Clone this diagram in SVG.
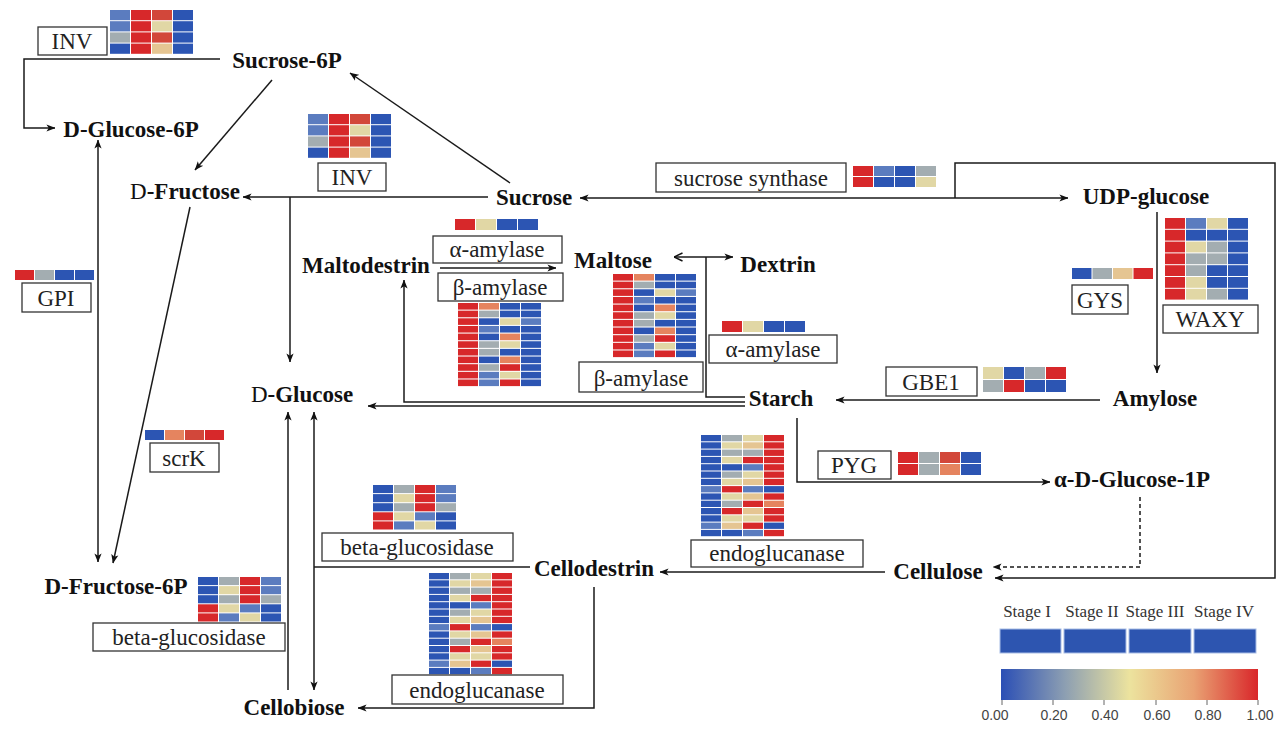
<svg xmlns="http://www.w3.org/2000/svg" xmlns:xlink="http://www.w3.org/1999/xlink" width="1283" height="729" viewBox="0 0 1283 729">
<style>
.n{font-family:"Liberation Serif","Times New Roman",serif;font-weight:bold;font-size:23px;fill:#111;text-anchor:middle}
.l{font-family:"Liberation Serif","Times New Roman",serif;font-size:23px;fill:#222;text-anchor:middle}
.bx{fill:#fff;stroke:#333;stroke-width:1.3}
.c{fill:none;stroke:#1a1a1a;stroke-width:1.5}
.ar{marker-end:url(#ah)}
.dash{stroke-dasharray:4 3}
.r{fill:#d7282a}.r2{fill:#d2473a}.o{fill:#e5845f}.y{fill:#e1d7a5}.t{fill:#e5c592}.g{fill:#a3adb1}.s{fill:#5b7cbf}.b{fill:#2c55b3}
.lg{font-family:"Liberation Serif","Times New Roman",serif;font-size:17px;fill:#333;text-anchor:middle}
.tk{font-family:"Liberation Sans Narrow","Liberation Sans",sans-serif;font-size:14px;fill:#444;text-anchor:middle}
</style>
<defs>
<marker id="ah" viewBox="0 0 10 10" refX="9.5" refY="5" markerWidth="9" markerHeight="9" markerUnits="userSpaceOnUse" orient="auto-start-reverse"><path d="M0,1 L10,5 L0,9 L2.5,5 z" fill="#111"/></marker>
<marker id="ao" viewBox="0 0 10 10" refX="9.5" refY="5" markerWidth="10" markerHeight="10" markerUnits="userSpaceOnUse" orient="auto"><path d="M1,1 L9.5,5 L1,9" fill="none" stroke="#111" stroke-width="1.4"/></marker>
<linearGradient id="grad" x1="0" y1="0" x2="1" y2="0">
<stop offset="0" stop-color="#2b4fb5"/><stop offset="0.25" stop-color="#8d9fb2"/><stop offset="0.5" stop-color="#ece39e"/><stop offset="0.75" stop-color="#e9a273"/><stop offset="1" stop-color="#d9262a"/>
</linearGradient>
<g id="hmINV">
<rect x="0" y="0" width="20" height="10.2" class="s"/><rect x="21" y="0" width="20" height="10.2" class="r"/><rect x="42" y="0" width="20" height="10.2" class="r2"/><rect x="63" y="0" width="20" height="10.2" class="b"/>
<rect x="0" y="11.2" width="20" height="10.2" class="s"/><rect x="21" y="11.2" width="20" height="10.2" class="r"/><rect x="42" y="11.2" width="20" height="10.2" class="y"/><rect x="63" y="11.2" width="20" height="10.2" class="b"/>
<rect x="0" y="22.4" width="20" height="10.2" class="g"/><rect x="21" y="22.4" width="20" height="10.2" class="r"/><rect x="42" y="22.4" width="20" height="10.2" class="r2"/><rect x="63" y="22.4" width="20" height="10.2" class="b"/>
<rect x="0" y="33.6" width="20" height="10.2" class="b"/><rect x="21" y="33.6" width="20" height="10.2" class="r"/><rect x="42" y="33.6" width="20" height="10.2" class="t"/><rect x="63" y="33.6" width="20" height="10.2" class="b"/>
</g>
<g id="hmA">
<rect x="0" y="0" width="20" height="11" class="r"/><rect x="21" y="0" width="20" height="11" class="y"/><rect x="42" y="0" width="20" height="11" class="b"/><rect x="63" y="0" width="20" height="11" class="b"/>
</g>
<g id="hmB">
<rect x="0" y="0" width="20" height="6.6" class="r"/><rect x="21" y="0" width="20" height="6.6" class="o"/><rect x="42" y="0" width="20" height="6.6" class="b"/><rect x="63" y="0" width="20" height="6.6" class="b"/>
<rect x="0" y="7.65" width="20" height="6.6" class="r"/><rect x="21" y="7.65" width="20" height="6.6" class="g"/><rect x="42" y="7.65" width="20" height="6.6" class="b"/><rect x="63" y="7.65" width="20" height="6.6" class="b"/>
<rect x="0" y="15.3" width="20" height="6.6" class="r"/><rect x="21" y="15.3" width="20" height="6.6" class="b"/><rect x="42" y="15.3" width="20" height="6.6" class="y"/><rect x="63" y="15.3" width="20" height="6.6" class="s"/>
<rect x="0" y="22.95" width="20" height="6.6" class="r"/><rect x="21" y="22.95" width="20" height="6.6" class="s"/><rect x="42" y="22.95" width="20" height="6.6" class="b"/><rect x="63" y="22.95" width="20" height="6.6" class="b"/>
<rect x="0" y="30.6" width="20" height="6.6" class="r"/><rect x="21" y="30.6" width="20" height="6.6" class="b"/><rect x="42" y="30.6" width="20" height="6.6" class="o"/><rect x="63" y="30.6" width="20" height="6.6" class="b"/>
<rect x="0" y="38.25" width="20" height="6.6" class="r"/><rect x="21" y="38.25" width="20" height="6.6" class="g"/><rect x="42" y="38.25" width="20" height="6.6" class="y"/><rect x="63" y="38.25" width="20" height="6.6" class="b"/>
<rect x="0" y="45.9" width="20" height="6.6" class="r"/><rect x="21" y="45.9" width="20" height="6.6" class="g"/><rect x="42" y="45.9" width="20" height="6.6" class="b"/><rect x="63" y="45.9" width="20" height="6.6" class="b"/>
<rect x="0" y="53.55" width="20" height="6.6" class="r"/><rect x="21" y="53.55" width="20" height="6.6" class="b"/><rect x="42" y="53.55" width="20" height="6.6" class="o"/><rect x="63" y="53.55" width="20" height="6.6" class="b"/>
<rect x="0" y="61.2" width="20" height="6.6" class="r"/><rect x="21" y="61.2" width="20" height="6.6" class="g"/><rect x="42" y="61.2" width="20" height="6.6" class="r"/><rect x="63" y="61.2" width="20" height="6.6" class="b"/>
<rect x="0" y="68.85" width="20" height="6.6" class="r"/><rect x="21" y="68.85" width="20" height="6.6" class="s"/><rect x="42" y="68.85" width="20" height="6.6" class="y"/><rect x="63" y="68.85" width="20" height="6.6" class="b"/>
<rect x="0" y="76.5" width="20" height="6.6" class="r"/><rect x="21" y="76.5" width="20" height="6.6" class="s"/><rect x="42" y="76.5" width="20" height="6.6" class="r"/><rect x="63" y="76.5" width="20" height="6.6" class="b"/>
</g>
<g id="hmE">
<rect x="0" y="0" width="20" height="6.3" class="b"/><rect x="21" y="0" width="20" height="6.3" class="g"/><rect x="42" y="0" width="20" height="6.3" class="y"/><rect x="63" y="0" width="20" height="6.3" class="r"/>
<rect x="0" y="7.3" width="20" height="6.3" class="b"/><rect x="21" y="7.3" width="20" height="6.3" class="y"/><rect x="42" y="7.3" width="20" height="6.3" class="t"/><rect x="63" y="7.3" width="20" height="6.3" class="r"/>
<rect x="0" y="14.6" width="20" height="6.3" class="b"/><rect x="21" y="14.6" width="20" height="6.3" class="g"/><rect x="42" y="14.6" width="20" height="6.3" class="g"/><rect x="63" y="14.6" width="20" height="6.3" class="r"/>
<rect x="0" y="21.9" width="20" height="6.3" class="b"/><rect x="21" y="21.9" width="20" height="6.3" class="y"/><rect x="42" y="21.9" width="20" height="6.3" class="r"/><rect x="63" y="21.9" width="20" height="6.3" class="r"/>
<rect x="0" y="29.2" width="20" height="6.3" class="b"/><rect x="21" y="29.2" width="20" height="6.3" class="b"/><rect x="42" y="29.2" width="20" height="6.3" class="s"/><rect x="63" y="29.2" width="20" height="6.3" class="r"/>
<rect x="0" y="36.5" width="20" height="6.3" class="b"/><rect x="21" y="36.5" width="20" height="6.3" class="g"/><rect x="42" y="36.5" width="20" height="6.3" class="y"/><rect x="63" y="36.5" width="20" height="6.3" class="r"/>
<rect x="0" y="43.8" width="20" height="6.3" class="b"/><rect x="21" y="43.8" width="20" height="6.3" class="y"/><rect x="42" y="43.8" width="20" height="6.3" class="t"/><rect x="63" y="43.8" width="20" height="6.3" class="r"/>
<rect x="0" y="51.1" width="20" height="6.3" class="s"/><rect x="21" y="51.1" width="20" height="6.3" class="r"/><rect x="42" y="51.1" width="20" height="6.3" class="s"/><rect x="63" y="51.1" width="20" height="6.3" class="b"/>
<rect x="0" y="58.4" width="20" height="6.3" class="b"/><rect x="21" y="58.4" width="20" height="6.3" class="y"/><rect x="42" y="58.4" width="20" height="6.3" class="t"/><rect x="63" y="58.4" width="20" height="6.3" class="r"/>
<rect x="0" y="65.7" width="20" height="6.3" class="b"/><rect x="21" y="65.7" width="20" height="6.3" class="g"/><rect x="42" y="65.7" width="20" height="6.3" class="r"/><rect x="63" y="65.7" width="20" height="6.3" class="o"/>
<rect x="0" y="73" width="20" height="6.3" class="b"/><rect x="21" y="73" width="20" height="6.3" class="r"/><rect x="42" y="73" width="20" height="6.3" class="t"/><rect x="63" y="73" width="20" height="6.3" class="r"/>
<rect x="0" y="80.3" width="20" height="6.3" class="b"/><rect x="21" y="80.3" width="20" height="6.3" class="y"/><rect x="42" y="80.3" width="20" height="6.3" class="y"/><rect x="63" y="80.3" width="20" height="6.3" class="r"/>
<rect x="0" y="87.6" width="20" height="6.3" class="s"/><rect x="21" y="87.6" width="20" height="6.3" class="t"/><rect x="42" y="87.6" width="20" height="6.3" class="r"/><rect x="63" y="87.6" width="20" height="6.3" class="b"/>
<rect x="0" y="94.9" width="20" height="6.3" class="b"/><rect x="21" y="94.9" width="20" height="6.3" class="b"/><rect x="42" y="94.9" width="20" height="6.3" class="s"/><rect x="63" y="94.9" width="20" height="6.3" class="r"/>
</g>
<g id="hmBG">
<rect x="0" y="0" width="20" height="8.1" class="b"/><rect x="21" y="0" width="20" height="8.1" class="g"/><rect x="42" y="0" width="20" height="8.1" class="r"/><rect x="63" y="0" width="20" height="8.1" class="s"/>
<rect x="0" y="9.1" width="20" height="8.1" class="b"/><rect x="21" y="9.1" width="20" height="8.1" class="y"/><rect x="42" y="9.1" width="20" height="8.1" class="r"/><rect x="63" y="9.1" width="20" height="8.1" class="s"/>
<rect x="0" y="18.2" width="20" height="8.1" class="b"/><rect x="21" y="18.2" width="20" height="8.1" class="g"/><rect x="42" y="18.2" width="20" height="8.1" class="r"/><rect x="63" y="18.2" width="20" height="8.1" class="g"/>
<rect x="0" y="27.3" width="20" height="8.1" class="r"/><rect x="21" y="27.3" width="20" height="8.1" class="y"/><rect x="42" y="27.3" width="20" height="8.1" class="s"/><rect x="63" y="27.3" width="20" height="8.1" class="b"/>
<rect x="0" y="36.4" width="20" height="8.1" class="r"/><rect x="21" y="36.4" width="20" height="8.1" class="s"/><rect x="42" y="36.4" width="20" height="8.1" class="y"/><rect x="63" y="36.4" width="20" height="8.1" class="b"/>
</g>
</defs>
<rect width="1283" height="729" fill="#fff"/>

<g id="connectors">
<path class="c ar" d="M220,59 H24 V128 H55"/>
<path class="c ar" d="M272,80 L195,170"/>
<path class="c ar" d="M510,183 L350,73"/>
<path class="c ar" d="M488,197 H243"/>
<path class="c ar" d="M290,197 V362"/>
<path class="c" d="M580,198 H1068" marker-start="url(#ah)" marker-end="url(#ah)"/>
<path class="c ar" d="M955,198 V163 H1275 V578 H995"/>
<path class="c ar" d="M1157,212 V373"/>
<path class="c ar" d="M1100,400 H836"/>
<path class="c ar" d="M745,402 H404 V280"/>
<path class="c ar" d="M745,406 H368"/>
<path class="c" d="M745,397 H706 V257"/>
<path class="c" d="M706,257 H674" marker-end="url(#ao)"/>
<path class="c ar" d="M706,257 H733"/>
<path class="c ar" d="M440,268 H556"/>
<path class="c ar" d="M797,418 V482 H1050"/>
<path class="c ar dash" d="M1140,497 V567 H993"/>
<path class="c ar" d="M885,572 H660"/>
<path class="c ar" d="M594,587 V708 H358"/>
<path class="c" d="M530,567 H314"/>
<path class="c" d="M314,690 V412" marker-start="url(#ah)" marker-end="url(#ah)"/>
<path class="c ar" d="M288,690 V412"/>
<path class="c" d="M98,562 V140" marker-start="url(#ah)" marker-end="url(#ah)"/>
<path class="c ar" d="M190,207 L113,563"/>
</g>

<g id="node-sucrose-6p"><text class="n" x="287" y="68">Sucrose-6P</text></g>
<g id="node-d-glucose-6p"><text class="n" x="131" y="137">D-Glucose-6P</text></g>
<g id="node-d-fructose"><text class="n" x="185" y="199"><tspan font-weight="normal">D</tspan>-Fructose</text></g>
<g id="node-sucrose"><text class="n" x="534" y="205">Sucrose</text></g>
<g id="node-udp-glucose"><text class="n" x="1146" y="204">UDP-glucose</text></g>
<g id="node-maltodestrin"><text class="n" x="366" y="273">Maltodestrin</text></g>
<g id="node-maltose"><text class="n" x="613" y="268">Maltose</text></g>
<g id="node-dextrin"><text class="n" x="778" y="272">Dextrin</text></g>
<g id="node-d-glucose"><text class="n" x="302" y="402"><tspan font-weight="normal">D</tspan>-Glucose</text></g>
<g id="node-starch"><text class="n" x="781" y="406">Starch</text></g>
<g id="node-amylose"><text class="n" x="1155" y="406">Amylose</text></g>
<g id="node-a-d-glucose-1p"><text class="n" x="1132" y="487">α-D-Glucose-1P</text></g>
<g id="node-cellulose"><text class="n" x="938" y="579">Cellulose</text></g>
<g id="node-cellodestrin"><text class="n" x="594" y="576">Cellodestrin</text></g>
<g id="node-d-fructose-6p"><text class="n" x="116" y="594">D-Fructose-6P</text></g>
<g id="node-cellobiose"><text class="n" x="294" y="715">Cellobiose</text></g>

<g id="enz-inv-1"><use xlink:href="#hmINV" x="110" y="10"/><rect class="bx" x="38" y="27" width="69" height="28"/><text class="l" x="72" y="49">INV</text></g>
<g id="enz-inv-2"><use xlink:href="#hmINV" x="308" y="114"/><rect class="bx" x="318" y="163" width="68" height="28"/><text class="l" x="352" y="185">INV</text></g>
<g id="enz-sucrose-synthase"><rect class="bx" x="656" y="163" width="190" height="29"/><text class="l" x="751" y="186">sucrose synthase</text>
<rect x="853" y="166" width="20" height="10" class="r"/><rect x="874" y="166" width="20" height="10" class="s"/><rect x="895" y="166" width="20" height="10" class="b"/><rect x="916" y="166" width="20" height="10" class="g"/>
<rect x="853" y="177" width="20" height="10" class="r"/><rect x="874" y="177" width="20" height="10" class="b"/><rect x="895" y="177" width="20" height="10" class="b"/><rect x="916" y="177" width="20" height="10" class="y"/></g>
<g id="enz-waxy"><rect class="bx" x="1163" y="305" width="95" height="28"/><text class="l" x="1210" y="327">WAXY</text>
<g transform="translate(1165,218)">
<rect x="0" y="0" width="20" height="10.8" class="r"/><rect x="21" y="0" width="20" height="10.8" class="s"/><rect x="42" y="0" width="20" height="10.8" class="y"/><rect x="63" y="0" width="20" height="10.8" class="b"/>
<rect x="0" y="11.8" width="20" height="10.8" class="r"/><rect x="21" y="11.8" width="20" height="10.8" class="b"/><rect x="42" y="11.8" width="20" height="10.8" class="b"/><rect x="63" y="11.8" width="20" height="10.8" class="b"/>
<rect x="0" y="23.6" width="20" height="10.8" class="r"/><rect x="21" y="23.6" width="20" height="10.8" class="y"/><rect x="42" y="23.6" width="20" height="10.8" class="g"/><rect x="63" y="23.6" width="20" height="10.8" class="b"/>
<rect x="0" y="35.4" width="20" height="10.8" class="r"/><rect x="21" y="35.4" width="20" height="10.8" class="g"/><rect x="42" y="35.4" width="20" height="10.8" class="g"/><rect x="63" y="35.4" width="20" height="10.8" class="b"/>
<rect x="0" y="47.2" width="20" height="10.8" class="r"/><rect x="21" y="47.2" width="20" height="10.8" class="g"/><rect x="42" y="47.2" width="20" height="10.8" class="b"/><rect x="63" y="47.2" width="20" height="10.8" class="b"/>
<rect x="0" y="59" width="20" height="10.8" class="r"/><rect x="21" y="59" width="20" height="10.8" class="y"/><rect x="42" y="59" width="20" height="10.8" class="b"/><rect x="63" y="59" width="20" height="10.8" class="b"/>
<rect x="0" y="70.8" width="20" height="10.8" class="r"/><rect x="21" y="70.8" width="20" height="10.8" class="y"/><rect x="42" y="70.8" width="20" height="10.8" class="g"/><rect x="63" y="70.8" width="20" height="10.8" class="b"/>
</g></g>
<g id="enz-gys"><rect class="bx" x="1072" y="285" width="56" height="29"/><text class="l" x="1100" y="308">GYS</text>
<rect x="1072" y="268" width="19.5" height="11" class="b"/><rect x="1092.5" y="268" width="19.5" height="11" class="g"/><rect x="1113" y="268" width="19.5" height="11" class="t"/><rect x="1133.5" y="268" width="19.5" height="11" class="r"/></g>
<g id="enz-a-amylase-1"><use xlink:href="#hmA" x="455" y="219"/><rect class="bx" x="433" y="236" width="129" height="27"/><text class="l" x="497" y="257">α-amylase</text></g>
<g id="enz-b-amylase-1"><rect class="bx" x="438" y="273" width="125" height="28"/><text class="l" x="500" y="295">β-amylase</text><use xlink:href="#hmB" x="458" y="303"/></g>
<g id="enz-b-amylase-2"><use xlink:href="#hmB" x="613" y="274"/><rect class="bx" x="579" y="362" width="124" height="30"/><text class="l" x="641" y="386">β-amylase</text></g>
<g id="enz-a-amylase-2"><use xlink:href="#hmA" x="722" y="321"/><rect class="bx" x="709" y="335" width="128" height="28"/><text class="l" x="773" y="357">α-amylase</text></g>
<g id="enz-gbe1"><rect class="bx" x="886" y="367" width="91" height="29"/><text class="l" x="931" y="390">GBE1</text>
<rect x="983" y="367" width="20" height="12" class="y"/><rect x="1004" y="367" width="20" height="12" class="b"/><rect x="1025" y="367" width="20" height="12" class="g"/><rect x="1046" y="367" width="20" height="12" class="r"/>
<rect x="983" y="380" width="20" height="12" class="g"/><rect x="1004" y="380" width="20" height="12" class="r"/><rect x="1025" y="380" width="20" height="12" class="b"/><rect x="1046" y="380" width="20" height="12" class="b"/></g>
<g id="enz-pyg"><rect class="bx" x="818" y="451" width="73" height="28"/><text class="l" x="854" y="473">PYG</text>
<rect x="898" y="452" width="20" height="11" class="r"/><rect x="919" y="452" width="20" height="11" class="g"/><rect x="940" y="452" width="20" height="11" class="r2"/><rect x="961" y="452" width="20" height="11" class="b"/>
<rect x="898" y="464" width="20" height="11" class="r"/><rect x="919" y="464" width="20" height="11" class="g"/><rect x="940" y="464" width="20" height="11" class="o"/><rect x="961" y="464" width="20" height="11" class="b"/></g>
<g id="enz-endoglucanase-1"><use xlink:href="#hmE" x="701" y="435"/><rect class="bx" x="691" y="540" width="172" height="27"/><text class="l" x="777" y="561">endoglucanase</text></g>
<g id="enz-endoglucanase-2"><use xlink:href="#hmE" x="429" y="573"/><rect class="bx" x="392" y="675" width="171" height="29"/><text class="l" x="477" y="698">endoglucanase</text></g>
<g id="enz-beta-glucosidase-1"><use xlink:href="#hmBG" x="373" y="485"/><rect class="bx" x="322" y="533" width="191" height="28"/><text class="l" x="417" y="555">beta-glucosidase</text></g>
<g id="enz-beta-glucosidase-2"><use xlink:href="#hmBG" x="198" y="577"/><rect class="bx" x="93" y="623" width="192" height="28"/><text class="l" x="189" y="645">beta-glucosidase</text></g>
<g id="enz-gpi"><rect class="bx" x="22" y="283" width="69" height="29"/><text class="l" x="56" y="306">GPI</text>
<rect x="15" y="270" width="19" height="10" class="r"/><rect x="35" y="270" width="19" height="10" class="g"/><rect x="55" y="270" width="19" height="10" class="b"/><rect x="75" y="270" width="19" height="10" class="b"/></g>
<g id="enz-scrk"><rect class="bx" x="150" y="443" width="69" height="29"/><text class="l" x="184" y="466">scrK</text>
<rect x="145" y="430" width="19" height="10" class="b"/><rect x="165" y="430" width="19" height="10" class="o"/><rect x="185" y="430" width="19" height="10" class="r2"/><rect x="205" y="430" width="19" height="10" class="r"/></g>

<g id="legend">
<text class="lg" x="1027" y="617">Stage I</text><text class="lg" x="1092" y="617">Stage II</text><text class="lg" x="1155" y="617">Stage III</text><text class="lg" x="1224" y="617">Stage IV</text>
<rect x="1000" y="629" width="61" height="24" fill="#2d55b0" stroke="#a8bde6" stroke-width="1"/>
<rect x="1064" y="629" width="62" height="24" fill="#2d55b0" stroke="#a8bde6" stroke-width="1"/>
<rect x="1129" y="629" width="62" height="24" fill="#2d55b0" stroke="#a8bde6" stroke-width="1"/>
<rect x="1194" y="629" width="62" height="24" fill="#2d55b0" stroke="#a8bde6" stroke-width="1"/>
<rect x="1001" y="669" width="257" height="31" fill="url(#grad)"/>
<path d="M1002,700 v5 M1053,700 v5 M1104,700 v5 M1156,700 v5 M1207,700 v5 M1258,700 v5" stroke="#666" stroke-width="1"/>
<text class="tk" x="995" y="720">0.00</text><text class="tk" x="1054" y="720">0.20</text><text class="tk" x="1105" y="720">0.40</text><text class="tk" x="1157" y="720">0.60</text><text class="tk" x="1208" y="720">0.80</text><text class="tk" x="1260" y="720">1.00</text>
</g>
</svg>
